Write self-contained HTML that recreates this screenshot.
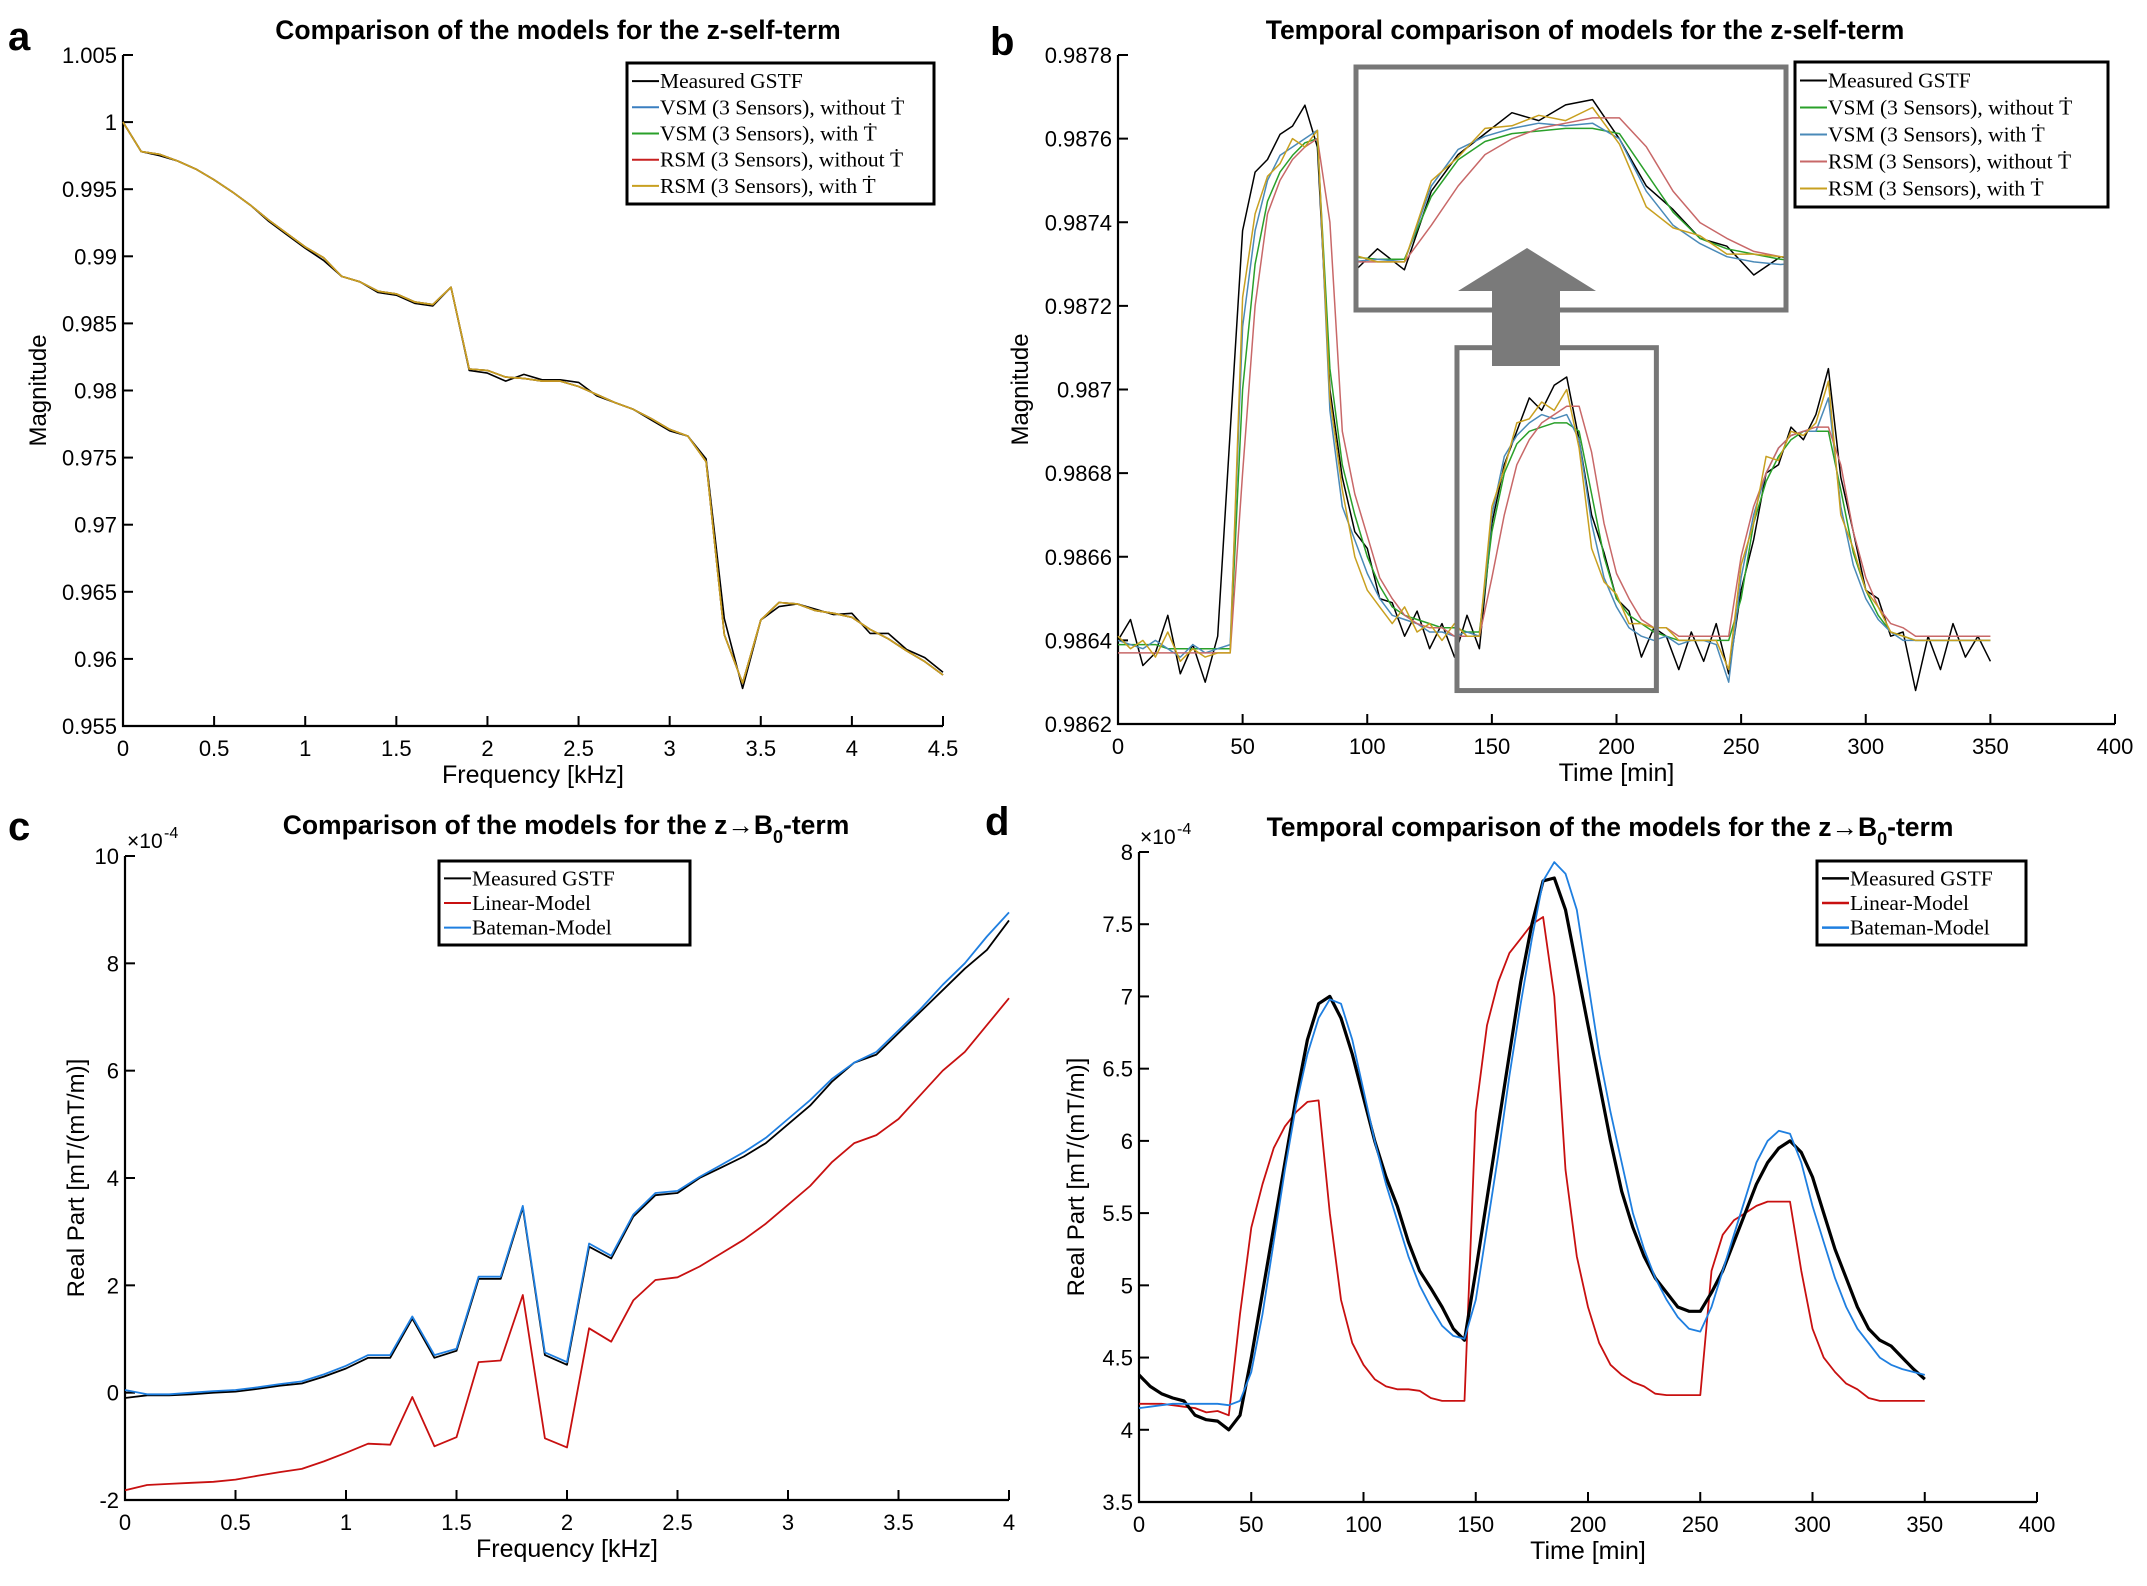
<!DOCTYPE html>
<html><head><meta charset="utf-8"><style>
html,body{margin:0;padding:0;background:#fff;}
svg{display:block;}
text{font-family:"Liberation Sans",sans-serif;}
.ser{font-family:"Liberation Serif",serif;}
</style></head><body>
<svg id="fig" width="2147" height="1586" viewBox="0 0 2147 1586" xmlns="http://www.w3.org/2000/svg"></svg>
<script>
// ---------- Panel a data ----------
const aFreq=[0,0.1,0.2,0.3,0.4,0.5,0.6,0.7,0.8,0.9,1.0,1.1,1.2,1.3,1.4,1.5,1.6,1.7,1.8,1.9,2.0,2.1,2.2,2.3,2.4,2.5,2.6,2.7,2.8,2.9,3.0,3.1,3.2,3.3,3.4,3.5,3.6,3.7,3.8,3.9,4.0,4.1,4.2,4.3,4.4,4.5];
const aMeasured=[1.0,0.9978,0.9975,0.9971,0.9965,0.9957,0.9948,0.9938,0.9926,0.9916,0.9906,0.9897,0.9885,0.9881,0.9873,0.9871,0.9865,0.9863,0.9877,0.9815,0.9813,0.9807,0.9812,0.9808,0.9808,0.9806,0.9796,0.9791,0.9786,0.9778,0.9770,0.9766,0.9749,0.9630,0.9578,0.9629,0.9639,0.9641,0.9637,0.9633,0.9634,0.9619,0.9619,0.9607,0.9601,0.9590];
const aModel=[1.0,0.9978,0.9976,0.9971,0.9965,0.9957,0.9948,0.9938,0.9927,0.9917,0.9907,0.9899,0.9885,0.9881,0.9874,0.9872,0.9866,0.9864,0.9877,0.9816,0.9815,0.9810,0.9809,0.9807,0.9807,0.9803,0.9797,0.9791,0.9786,0.9779,0.9771,0.9766,0.9747,0.9618,0.9582,0.9629,0.9642,0.9641,0.9636,0.9634,0.9631,0.9622,0.9615,0.9606,0.9598,0.9588];
const aYTicks=[0.955,0.96,0.965,0.97,0.975,0.98,0.985,0.99,0.995,1,1.005];
const aYLabels=["0.955","0.96","0.965","0.97","0.975","0.98","0.985","0.99","0.995","1","1.005"];
const aXTicks=[0,0.5,1,1.5,2,2.5,3,3.5,4,4.5];
const aXLabels=["0","0.5","1","1.5","2","2.5","3","3.5","4","4.5"];
// ---------- Panel b data ----------
const bTime=[0,5,10,15,20,25,30,35,40,45,50,55,60,65,70,75,80,85,90,95,100,105,110,115,120,125,130,135,140,145,150,155,160,165,170,175,180,185,190,195,200,205,210,215,220,225,230,235,240,245,250,255,260,265,270,275,280,285,290,295,300,305,310,315,320,325,330,335,340,345,350];
const bMeasured=[0.98640,0.98645,0.98634,0.98637,0.98646,0.98632,0.98639,0.98630,0.98641,0.98690,0.98738,0.98752,0.98755,0.98761,0.98763,0.98768,0.98758,0.98700,0.98679,0.98666,0.98662,0.98650,0.98649,0.98641,0.98647,0.98638,0.98644,0.98636,0.98646,0.98638,0.98668,0.98682,0.98690,0.98698,0.98695,0.98701,0.98703,0.98688,0.98670,0.98661,0.98650,0.98647,0.98636,0.98643,0.98641,0.98633,0.98642,0.98635,0.98644,0.98632,0.98652,0.98664,0.98680,0.98682,0.98691,0.98688,0.98694,0.98705,0.98679,0.98666,0.98652,0.98650,0.98641,0.98642,0.98628,0.98641,0.98633,0.98644,0.98636,0.98641,0.98635];
const bVsmWithout=[0.98639,0.98639,0.98639,0.98639,0.98638,0.98638,0.98638,0.98638,0.98638,0.98638,0.98700,0.98730,0.98745,0.98752,0.98756,0.98759,0.98760,0.98705,0.98682,0.98670,0.98660,0.98653,0.98648,0.98646,0.98645,0.98644,0.98643,0.98643,0.98642,0.98642,0.98666,0.98680,0.98687,0.98690,0.98691,0.98692,0.98692,0.98690,0.98675,0.98660,0.98650,0.98646,0.98644,0.98642,0.98641,0.98640,0.98640,0.98640,0.98640,0.98640,0.98650,0.98668,0.98678,0.98684,0.98688,0.98690,0.98690,0.98690,0.98676,0.98661,0.98652,0.98646,0.98642,0.98641,0.98640,0.98640,0.98640,0.98640,0.98640,0.98640,0.98640];
const bVsmWith=[0.98640,0.98639,0.98638,0.98640,0.98638,0.98636,0.98639,0.98637,0.98638,0.98639,0.98715,0.98738,0.98750,0.98756,0.98758,0.98760,0.98762,0.98695,0.98672,0.98664,0.98656,0.98650,0.98646,0.98645,0.98644,0.98642,0.98642,0.98641,0.98642,0.98641,0.98670,0.98684,0.98689,0.98692,0.98694,0.98693,0.98694,0.98688,0.98668,0.98655,0.98648,0.98643,0.98641,0.98640,0.98641,0.98639,0.98640,0.98640,0.98639,0.98630,0.98655,0.98670,0.98680,0.98686,0.98689,0.98690,0.98690,0.98698,0.98672,0.98658,0.98650,0.98645,0.98642,0.98640,0.98640,0.98640,0.98640,0.98640,0.98640,0.98640,0.98640];
const bRsmWithout=[0.98637,0.98637,0.98637,0.98637,0.98637,0.98637,0.98637,0.98637,0.98637,0.98637,0.98680,0.98720,0.98742,0.98750,0.98755,0.98758,0.98760,0.98740,0.98690,0.98675,0.98665,0.98655,0.98650,0.98646,0.98644,0.98643,0.98643,0.98641,0.98641,0.98641,0.98655,0.98670,0.98682,0.98688,0.98692,0.98694,0.98696,0.98696,0.98685,0.98668,0.98656,0.98650,0.98645,0.98643,0.98643,0.98641,0.98641,0.98641,0.98641,0.98641,0.98660,0.98672,0.98680,0.98686,0.98689,0.98690,0.98691,0.98691,0.98682,0.98666,0.98655,0.98648,0.98644,0.98643,0.98641,0.98641,0.98641,0.98641,0.98641,0.98641,0.98641];
const bRsmWith=[0.98641,0.98638,0.98640,0.98636,0.98642,0.98635,0.98638,0.98636,0.98637,0.98637,0.98722,0.98742,0.98751,0.98754,0.98760,0.98758,0.98762,0.98698,0.98676,0.98660,0.98652,0.98648,0.98644,0.98648,0.98642,0.98644,0.98640,0.98644,0.98641,0.98641,0.98672,0.98681,0.98692,0.98693,0.98697,0.98695,0.98700,0.98686,0.98662,0.98654,0.98651,0.98644,0.98644,0.98643,0.98643,0.98640,0.98640,0.98640,0.98640,0.98633,0.98658,0.98668,0.98684,0.98683,0.98690,0.98689,0.98692,0.98702,0.98670,0.98662,0.98652,0.98648,0.98642,0.98641,0.98640,0.98640,0.98640,0.98640,0.98640,0.98640,0.98640];
const bYTicks=[0.9862,0.9864,0.9866,0.9868,0.987,0.9872,0.9874,0.9876,0.9878];
const bYLabels=["0.9862","0.9864","0.9866","0.9868","0.987","0.9872","0.9874","0.9876","0.9878"];
const bXTicks=[0,50,100,150,200,250,300,350,400];
const bXLabels=["0","50","100","150","200","250","300","350","400"];
// ---------- Panel c data (x1e-4) ----------
const cFreq=[0,0.1,0.2,0.3,0.4,0.5,0.6,0.7,0.8,0.9,1.0,1.1,1.2,1.3,1.4,1.5,1.6,1.7,1.8,1.9,2.0,2.1,2.2,2.3,2.4,2.5,2.6,2.7,2.8,2.9,3.0,3.1,3.2,3.3,3.4,3.5,3.6,3.7,3.8,3.9,4.0];
const cMeasured=[-0.1,-0.05,-0.05,-0.03,0,0.02,0.07,0.13,0.17,0.3,0.45,0.65,0.65,1.38,0.65,0.78,2.12,2.12,3.45,0.7,0.52,2.72,2.5,3.28,3.68,3.72,4.0,4.2,4.4,4.65,5.0,5.35,5.8,6.15,6.3,6.7,7.1,7.5,7.9,8.25,8.8];
const cLinear=[-1.82,-1.72,-1.7,-1.68,-1.66,-1.62,-1.55,-1.48,-1.42,-1.28,-1.12,-0.95,-0.97,-0.08,-1.0,-0.83,0.57,0.6,1.82,-0.85,-1.02,1.2,0.95,1.72,2.1,2.15,2.35,2.6,2.85,3.15,3.5,3.85,4.3,4.65,4.8,5.1,5.55,6.0,6.35,6.85,7.35];
const cBateman=[0.05,-0.03,-0.03,0,0.03,0.05,0.1,0.16,0.21,0.34,0.5,0.7,0.7,1.42,0.7,0.82,2.16,2.16,3.48,0.75,0.57,2.78,2.55,3.32,3.72,3.76,4.02,4.25,4.48,4.75,5.1,5.45,5.85,6.15,6.35,6.75,7.15,7.6,8.0,8.5,8.95];
const cYTicks=[-2,0,2,4,6,8,10];
const cYLabels=["-2","0","2","4","6","8","10"];
const cXTicks=[0,0.5,1,1.5,2,2.5,3,3.5,4];
const cXLabels=["0","0.5","1","1.5","2","2.5","3","3.5","4"];
// ---------- Panel d data (x1e-4) ----------
const dTime=[0,5,10,15,20,25,30,35,40,45,50,55,60,65,70,75,80,85,90,95,100,105,110,115,120,125,130,135,140,145,150,155,160,165,170,175,180,185,190,195,200,205,210,215,220,225,230,235,240,245,250,255,260,265,270,275,280,285,290,295,300,305,310,315,320,325,330,335,340,345,350];
const dMeasured=[4.38,4.3,4.25,4.22,4.2,4.1,4.07,4.06,4.0,4.1,4.5,4.95,5.4,5.85,6.3,6.7,6.95,7.0,6.85,6.6,6.3,6.0,5.75,5.55,5.3,5.1,4.98,4.85,4.7,4.62,5.1,5.6,6.1,6.6,7.1,7.5,7.8,7.82,7.6,7.2,6.8,6.4,6.0,5.65,5.4,5.2,5.05,4.95,4.85,4.82,4.82,4.95,5.1,5.3,5.5,5.7,5.85,5.95,6.0,5.92,5.75,5.5,5.25,5.05,4.85,4.7,4.62,4.58,4.5,4.42,4.35];
const dLinear=[4.18,4.18,4.18,4.17,4.16,4.15,4.12,4.13,4.1,4.8,5.4,5.7,5.95,6.1,6.2,6.27,6.28,5.5,4.9,4.6,4.45,4.35,4.3,4.28,4.28,4.27,4.22,4.2,4.2,4.2,6.2,6.8,7.1,7.3,7.4,7.5,7.55,7.0,5.8,5.2,4.85,4.6,4.45,4.38,4.33,4.3,4.25,4.24,4.24,4.24,4.24,5.1,5.35,5.45,5.5,5.55,5.58,5.58,5.58,5.1,4.7,4.5,4.4,4.32,4.28,4.22,4.2,4.2,4.2,4.2,4.2];
const dBateman=[4.15,4.16,4.17,4.18,4.18,4.18,4.18,4.18,4.17,4.2,4.4,4.8,5.3,5.8,6.25,6.6,6.85,6.98,6.95,6.7,6.35,6.0,5.7,5.45,5.2,5.0,4.85,4.72,4.65,4.63,4.9,5.4,5.9,6.45,6.95,7.4,7.8,7.93,7.85,7.6,7.1,6.6,6.2,5.85,5.5,5.25,5.05,4.9,4.78,4.7,4.68,4.85,5.1,5.35,5.6,5.85,6.0,6.07,6.05,5.85,5.55,5.3,5.05,4.85,4.7,4.6,4.5,4.45,4.42,4.4,4.38];
const dYTicks=[3.5,4,4.5,5,5.5,6,6.5,7,7.5,8];
const dYLabels=["3.5","4","4.5","5","5.5","6","6.5","7","7.5","8"];
const dXTicks=[0,50,100,150,200,250,300,350,400];
const dXLabels=["0","50","100","150","200","250","300","350","400"];

const NS="http://www.w3.org/2000/svg";
const svg=document.getElementById('fig');
function mk(tag,attrs,parent){const e=document.createElementNS(NS,tag);for(const k in attrs)e.setAttribute(k,attrs[k]);(parent||svg).appendChild(e);return e;}
function txt(s,x,y,size,anchor,parent,extra){const t=mk('text',Object.assign({x:x,y:y,'font-size':size,'text-anchor':anchor||'start',fill:'#000'},extra||{}),parent);t.textContent=s;return t;}

function axes(p){
  const g=mk('g',{});
  
  
  const sx=v=>p.x0+(v-p.xmin)/(p.xmax-p.xmin)*(p.x1-p.x0);
  const sy=v=>p.y1-(v-p.ymin)/(p.ymax-p.ymin)*(p.y1-p.y0);
  const ax=mk('path',{d:`M${p.x0},${p.y0} L${p.x0},${p.y1} L${p.x1},${p.y1}`,stroke:'#000','stroke-width':2.2,fill:'none'},g);
  
  
  p.xt.forEach((v,i)=>{
    mk('line',{x1:sx(v),x2:sx(v),y1:p.y1,y2:p.y1-10,stroke:'#000','stroke-width':2},g);
    const t=txt(p.xl[i],sx(v),p.y1+30,22,'middle',g);
    
    
  });
  p.yt.forEach((v,i)=>{
    mk('line',{x1:p.x0,x2:p.x0+10,y1:sy(v),y2:sy(v),stroke:'#000','stroke-width':2},g);
    const t=txt(p.yl[i],p.x0-6,sy(v)+8,22,'end',g);
    
    
  });
  const xt=txt(p.xtitle,(p.x0+p.x1)/2,p.y1+57,25,'middle',g);
  
  
  const yt=txt(p.ytitle,0,0,24,'middle',g,{transform:`translate(${p.ytx},${(p.y0+p.y1)/2}) rotate(-90)`});
  
  
  return {g,sx,sy};
}
function line(g,xs,ys,sx,sy,color,w,name){
  const d=xs.map((x,i)=>(i?'L':'M')+sx(x).toFixed(1)+','+sy(ys[i]).toFixed(1)).join(' ');
  const pth=mk('path',{d:d,stroke:color,'stroke-width':w,fill:'none','stroke-linejoin':'round'},g);
  
  
  return pth;
}
function legend(x,y,w,h,entries,width,name){
  const g=mk('g',{});
  
  
  mk('rect',{x:x,y:y,width:w,height:h,fill:'#fff',stroke:'#000','stroke-width':3},g);
  const step=(h-10)/entries.length;
  entries.forEach((e,i)=>{
    const yy=y+5+step*(i+0.5);
    mk('line',{x1:x+5,x2:x+32,y1:yy,y2:yy,stroke:e[1],'stroke-width':width},g);
    const t=txt(e[0],x+33,yy+7,21.5,'start',g,{class:'ser'});
    
    
  });
}
function label(s,x,y){const t=txt(s,x,y,40,'start',null,{'font-weight':'bold'});}
function title(s,x,y){const t=txt(s,x,y,26.5,'middle',null,{'font-weight':'bold'});return t;}

// ---- Panel a ----
{
const A=axes({name:'panel-a',x0:123,x1:943,y0:55,y1:726,xmin:0,xmax:4.5,ymin:0.955,ymax:1.005,xt:aXTicks,xl:aXLabels,yt:aYTicks,yl:aYLabels,xtitle:'Frequency [kHz]',ytitle:'Magnitude',ytx:46});
line(A.g,aFreq,aMeasured,A.sx,A.sy,'#000',1.6,'measured-gstf-line');
line(A.g,aFreq,aModel,A.sx,A.sy,'#3a7fc0',1.6,'vsm-without-line');
line(A.g,aFreq,aModel,A.sx,A.sy,'#2aa02a',1.6,'vsm-with-line');
line(A.g,aFreq,aModel,A.sx,A.sy,'#c82020',1.6,'rsm-without-line');
line(A.g,aFreq,aModel,A.sx,A.sy,'#c8a020',1.6,'rsm-with-line');
legend(627,63,307,141,[['Measured GSTF','#000'],['VSM (3 Sensors), without Ṫ','#3a7fc0'],['VSM (3 Sensors), with Ṫ','#2aa02a'],['RSM (3 Sensors), without Ṫ','#c82020'],['RSM (3 Sensors), with Ṫ','#c8a020']],2,'legend-a');
title('Comparison of the models for the z-self-term',558,39);
label('a',8,50);
}
// ---- Panel b ----
{
const B=axes({name:'panel-b',x0:1118,x1:2115,y0:55,y1:724,xmin:0,xmax:400,ymin:0.9862,ymax:0.9878,xt:bXTicks,xl:bXLabels,yt:bYTicks,yl:bYLabels,xtitle:'Time [min]',ytitle:'Magnitude',ytx:1028});
const series=[[bMeasured,'#000','measured-gstf-line'],[bVsmWithout,'#2aa02a','vsm-without-line'],[bVsmWith,'#4a8ab8','vsm-with-line'],[bRsmWithout,'#c86868','rsm-without-line'],[bRsmWith,'#c8a020','rsm-with-line']];
series.forEach(s=>line(B.g,bTime,s[0],B.sx,B.sy,s[1],1.5,s[2]));
const t0=136,t1=216,v0=0.98628,v1=0.98710;
const lb=mk('rect',{x:B.sx(t0),y:B.sy(v1),width:B.sx(t1)-B.sx(t0),height:B.sy(v0)-B.sy(v1),fill:'none',stroke:'#777','stroke-width':5},B.g);


const ix0=1356,ix1=1786,iy0=67,iy1=310;
const ig=mk('g',{},B.g);


mk('rect',{x:ix0,y:iy0,width:ix1-ix0,height:iy1-iy0,fill:'#fff'},ig);
const cp=mk('clipPath',{id:'insetclip'},ig);mk('rect',{x:ix0,y:iy0,width:ix1-ix0,height:iy1-iy0},cp);
const ic=mk('g',{'clip-path':'url(#insetclip)'},ig);
const isx=v=>ix0+(v-t0)/(t1-t0)*(ix1-ix0);
const isy=v=>iy1-35-(v-0.98636)/(0.98704-0.98636)*(iy1-iy0-65);
series.forEach(s=>line(ic,bTime,s[0],isx,isy,s[1],1.5,'inset-'+s[2]));
mk('rect',{x:ix0,y:iy0,width:ix1-ix0,height:iy1-iy0,fill:'none',stroke:'#777','stroke-width':5},ig);
const ar=mk('path',{d:'M1492,366 L1492,291 L1458,291 L1527,248 L1596,291 L1560,291 L1560,366 Z',fill:'#7a7a7a'},B.g);


legend(1795,62,313,145,[['Measured GSTF','#000'],['VSM (3 Sensors), without Ṫ','#2aa02a'],['VSM (3 Sensors), with Ṫ','#4a8ab8'],['RSM (3 Sensors), without Ṫ','#c86868'],['RSM (3 Sensors), with Ṫ','#c8a020']],2,'legend-b');
title('Temporal comparison of models for the z-self-term',1585,39);
label('b',990,55);
}
// ---- Panel c ----
{
const C=axes({name:'panel-c',x0:125,x1:1009,y0:856,y1:1500,xmin:0,xmax:4,ymin:-2,ymax:10,xt:cXTicks,xl:cXLabels,yt:cYTicks,yl:cYLabels,xtitle:'Frequency [kHz]',ytitle:'Real Part [mT/(mT/m)]',ytx:84});
line(C.g,cFreq,cMeasured,C.sx,C.sy,'#000',1.8,'measured-gstf-line');
line(C.g,cFreq,cLinear,C.sx,C.sy,'#c81010',1.8,'linear-model-line');
line(C.g,cFreq,cBateman,C.sx,C.sy,'#1f7fe0',1.8,'bateman-model-line');
const e=txt('×10',127,848,21,'start',null,{});
const e2=txt('-4',164,838,16,'start',null,{});
legend(439,861,251,84,[['Measured GSTF','#000'],['Linear-Model','#c81010'],['Bateman-Model','#1f7fe0']],2,'legend-c');
const t=title('Comparison of the models for the z→B',566,834);
const s=mk('tspan',{'font-size':18,dy:9});s.textContent='0';t.appendChild(s);
const s2=mk('tspan',{dy:-9});s2.textContent='-term';t.appendChild(s2);
label('c',8,840);
}
// ---- Panel d ----
{
const D=axes({name:'panel-d',x0:1139,x1:2037,y0:852,y1:1502,xmin:0,xmax:400,ymin:3.5,ymax:8,xt:dXTicks,xl:dXLabels,yt:dYTicks,yl:dYLabels,xtitle:'Time [min]',ytitle:'Real Part [mT/(mT/m)]',ytx:1084});
line(D.g,dTime,dLinear,D.sx,D.sy,'#c81010',1.8,'linear-model-line');
line(D.g,dTime,dMeasured,D.sx,D.sy,'#000',3.2,'measured-gstf-line');
line(D.g,dTime,dBateman,D.sx,D.sy,'#1f7fe0',1.8,'bateman-model-line');
const e=txt('×10',1140,844,21,'start',null,{});
const e2=txt('-4',1177,834,16,'start',null,{});
legend(1817,861,209,84,[['Measured GSTF','#000'],['Linear-Model','#c81010'],['Bateman-Model','#1f7fe0']],2.5,'legend-d');
const t=title('Temporal comparison of the models for the z→B',1610,836);
const s=mk('tspan',{'font-size':18,dy:9});s.textContent='0';t.appendChild(s);
const s2=mk('tspan',{dy:-9});s2.textContent='-term';t.appendChild(s2);
label('d',985,835);
}
</script>
</body></html>
